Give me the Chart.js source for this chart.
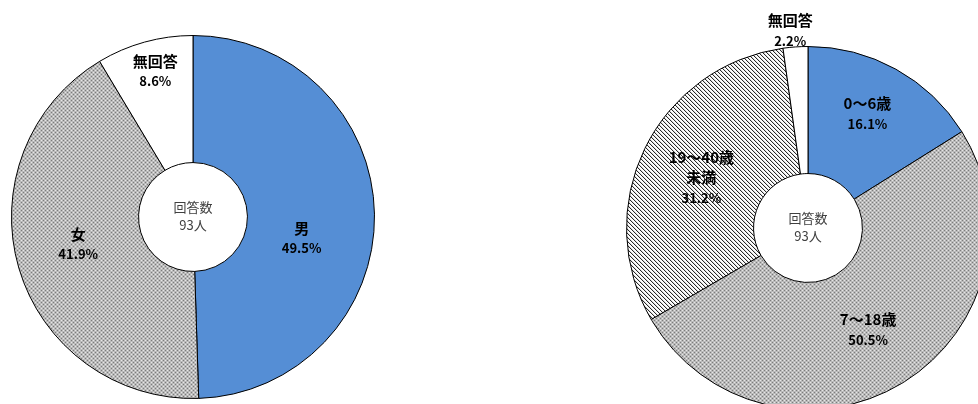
<!DOCTYPE html>
<html lang="ja">
<head>
<meta charset="utf-8">
<title>回答者の性別・年齢</title>
<script src="https://cdn.jsdelivr.net/npm/chart.js@4/dist/chart.umd.min.js"></script>
<style>
  html, body { margin: 0; padding: 0; background: #fff; width: 978px; height: 404px; overflow: hidden; }
  .ring { position: absolute; }
  #genderBox { left: 11px; top: 0px; width: 364px; height: 404px; }
  #ageBox { left: 626px; top: 0px; width: 364px; height: 410px; }
</style>
</head>
<body>
<div id="genderBox" class="ring"><canvas id="genderChart" width="364" height="399"></canvas></div>
<div id="ageBox" class="ring"><canvas id="ageChart" width="364" height="410"></canvas></div>
<script>
// Respondents
const respondentCount = 93;

// Gender breakdown (%)
const genderCategories = ['男', '女', '無回答'];
const genderValues = [49.5, 41.9, 8.6];

// Age breakdown (%)
const ageCategories = ['0～6歳', '7～18歳', '19～40歳\n未満', '無回答'];
const ageValues = [16.1, 50.5, 31.2, 2.2];

// Fill patterns
function dotPattern() {
  const c = document.createElement('canvas');
  c.width = 4; c.height = 4;
  const g = c.getContext('2d');
  g.fillStyle = '#bababa'; g.fillRect(0, 0, 4, 4);
  g.fillStyle = '#7c7c7c';
  g.fillRect(0, 0, 1, 1); g.fillRect(2, 2, 1, 1);
  g.fillStyle = '#e6e6e6';
  g.fillRect(2, 0, 1, 1); g.fillRect(0, 2, 1, 1);
  return g.createPattern(c, 'repeat');
}
function hatchPattern() {
  const c = document.createElement('canvas');
  c.width = 4; c.height = 4;
  const g = c.getContext('2d');
  g.fillStyle = '#ffffff'; g.fillRect(0, 0, 4, 4);
  for (let i = 0; i < 4; i++) {
    g.fillStyle = '#2a2a2a'; g.fillRect(i, i, 1, 1);
    g.fillStyle = '#dddddd'; g.fillRect((i + 1) % 4, i, 1, 1);
  }
  return g.createPattern(c, 'repeat');
}
const BLUE = '#558ED5';
const DOTS = dotPattern();
const HATCH = hatchPattern();

const NAME_FONT = 'bold 15px "Noto Sans CJK JP", "Noto Sans", sans-serif';
const PCT_FONT = 'bold 13px "Noto Sans CJK JP", "Noto Sans", sans-serif';
const CENTER_FONT = '13px "Noto Sans CJK JP", "Noto Sans", sans-serif';

// Slice labels: category + percentage, placed along each slice's angle
const sliceLabels = {
  id: 'sliceLabels',
  afterDatasetsDraw(chart, args, opts) {
    const ctx = chart.ctx;
    const meta = chart.getDatasetMeta(0);
    const ds = chart.data.datasets[0];
    ctx.save();
    ctx.fillStyle = '#000';
    ctx.textAlign = 'center';
    ctx.textBaseline = 'middle';
    meta.data.forEach((arc, i) => {
      const p = arc.getProps(['x', 'y', 'startAngle', 'endAngle', 'outerRadius'], true);
      const a = (p.startAngle + p.endAngle) / 2 + (opts.shift[i] || 0) * Math.PI / 180;
      const r = p.outerRadius * opts.radius[i];
      const cx = p.x + r * Math.cos(a);
      const cy = p.y + r * Math.sin(a);
      const lines = String(chart.data.labels[i]).split('\n').map(t => [t, NAME_FONT]);
      lines.push([ds.data[i].toFixed(1) + '%', PCT_FONT]);
      const lh = opts.lineHeight;
      const top = cy - (lines.length - 1) * lh / 2;
      lines.forEach(([t, f], k) => {
        ctx.font = f;
        ctx.fillText(t, cx, top + k * lh);
      });
    });
    ctx.restore();
  }
};

// Respondent count in the hole
const centerText = {
  id: 'centerText',
  afterDatasetsDraw(chart) {
    const ctx = chart.ctx;
    const arc = chart.getDatasetMeta(0).data[0];
    ctx.save();
    ctx.font = CENTER_FONT;
    ctx.fillStyle = '#404040';
    ctx.textAlign = 'center';
    ctx.textBaseline = 'middle';
    ctx.fillText('回答数', arc.x, arc.y - 10);
    ctx.fillText(respondentCount + '人', arc.x, arc.y + 8);
    ctx.restore();
  }
};

function ring(canvasId, categories, values, fills, topPad, labelOpts) {
  return new Chart(document.getElementById(canvasId), {
    type: 'doughnut',
    data: {
      labels: categories,
      datasets: [{
        data: values,
        backgroundColor: fills,
        borderColor: '#000',
        borderWidth: 1
      }]
    },
    options: {
      responsive: false,
      animation: false,
      cutout: '30%',
      layout: { padding: { top: topPad, left: 0, right: 0, bottom: 0 } },
      plugins: {
        legend: { display: false },
        tooltip: { enabled: false },
        sliceLabels: labelOpts
      }
    },
    plugins: [sliceLabels, centerText]
  });
}

ring('genderChart', genderCategories, genderValues, [BLUE, DOTS, '#ffffff'], 35,
  { radius: [0.61, 0.65, 0.83], shift: [12, 3, 1], lineHeight: 20 });

ring('ageChart', ageCategories, ageValues, [BLUE, DOTS, HATCH, '#ffffff'], 46,
  { radius: [0.71, 0.65, 0.65, 1.09], shift: [-1.5, 0.5, -0.6, -1.2], lineHeight: 20.5 });
</script>
</body>
</html>
